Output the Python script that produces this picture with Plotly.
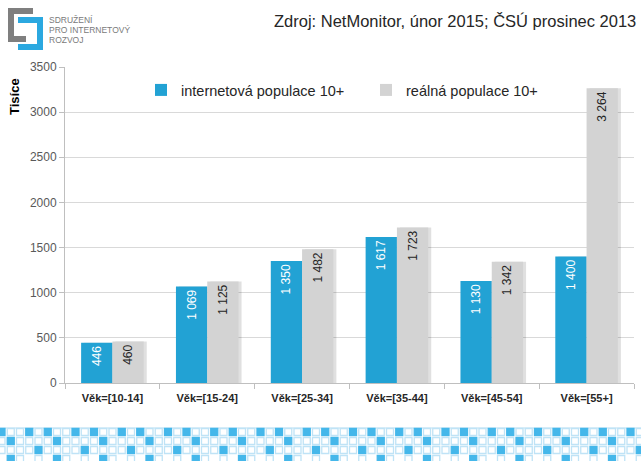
import plotly.graph_objects as go

categories = ["Věk=[10-14]", "Věk=[15-24]", "Věk=[25-34]", "Věk=[35-44]", "Věk=[45-54]", "Věk=[55+]"]
internet_pop = [446, 1069, 1350, 1617, 1130, 1400]
real_pop = [460, 1125, 1482, 1723, 1342, 3264]
series_names = ["internetová populace 10+", "reálná populace 10+"]
y_ticks = [0, 500, 1000, 1500, 2000, 2500, 3000, 3500]

BLUE = "#22A2D4"
GRAY = "#D3D3D3"
FONT = "Liberation Sans, Arial, sans-serif"

W, H = 641, 461
L, R, T, B = 65, 634, 67, 383


def px(x):
    return (x - L) / (R - L)


def py(y):
    return (B - y) / (B - T)


def fmt(v):
    return f"{v:,}".replace(",", " ")


fig = go.Figure()

bw = 0.33
# shadows
for vals, off in [(internet_pop, -bw), (real_pop, 0.0)]:
    fig.add_trace(go.Bar(
        x=categories, y=vals, width=bw, offset=off + 0.032,
        marker=dict(color="rgba(0,0,0,0.12)", line=dict(width=0)),
        showlegend=False, hoverinfo="skip"))

fig.add_trace(go.Bar(
    x=categories, y=internet_pop, name=series_names[0], width=bw, offset=-bw,
    marker=dict(color=BLUE, line=dict(width=0)),
    text=[fmt(v) for v in internet_pop], textposition="inside",
    insidetextanchor="end", textangle=-90,
    textfont=dict(family=FONT, size=12, color="white")))
fig.add_trace(go.Bar(
    x=categories, y=real_pop, name=series_names[1], width=bw, offset=0.0,
    marker=dict(color=GRAY, line=dict(width=0)),
    text=[fmt(v) for v in real_pop], textposition="inside",
    insidetextanchor="end", textangle=-90,
    textfont=dict(family=FONT, size=12, color="#262626")))

shapes = []
annotations = []


def rect(x0, y0, x1, y1, color, line=None, lw=0):
    shapes.append(dict(type="rect", xref="paper", yref="paper",
                       x0=px(x0), x1=px(x1), y0=py(y1), y1=py(y0),
                       fillcolor=color, line=dict(color=line or color, width=lw), layer="above"))


# logo
LG = "#7F7F7F"
LB = "#2BA8E0"
rect(8, 8, 33, 14, LG)
rect(8, 8, 14, 42, LG)
rect(8, 36, 26, 42, LG)
rect(18, 17, 43, 23, LB)
rect(37, 17, 43, 50, LB)
rect(18, 44, 43, 50, LB)
for i, t in enumerate(["SDRUŽENÍ", "PRO INTERNETOVÝ", "ROZVOJ"]):
    annotations.append(dict(text=t, xref="paper", yref="paper", x=px(47), y=py(20 + i * 10),
                            xanchor="left", yanchor="middle", showarrow=False,
                            font=dict(family=FONT, size=8.5, color="#7A7A7A")))

# footer pattern
shapes.append(dict(type="rect", xref="paper", yref="paper", x0=px(0), x1=px(641),
                   y0=py(429), y1=py(427), fillcolor="#DCEFF9", line=dict(width=0), layer="above"))
rows = [(432, {0, 3}, None), (441, {1}, None), (450, {4}, None), (459, {1}, {1, 2, 4})]
pitch = 9.25
for ry, filled, present in rows:
    n = 0
    while n * pitch < 645:
        k = n % 5
        if present is None or k in present:
            x0 = n * pitch - 2
            is_f = k in filled
            shapes.append(dict(type="rect", xref="paper", yref="paper",
                               x0=px(x0), x1=px(x0 + 7), y0=py(ry + 3.5), y1=py(ry - 3.5),
                               fillcolor="#45B7EA" if is_f else "white",
                               line=dict(color="#BFE3F6" if not is_f else "#45B7EA", width=1.3),
                               layer="above"))
        n += 1

annotations.append(dict(text="Zdroj: NetMonitor, únor 2015; ČSÚ prosinec 2013", xref="paper", yref="paper",
                        x=px(638), y=py(21), xanchor="right", yanchor="middle", showarrow=False,
                        font=dict(family=FONT, size=16.5, color="#262626")))
annotations.append(dict(text="<b>Tisíce</b>", xref="paper", yref="paper", x=px(15), y=py(97),
                        xanchor="center", yanchor="middle", textangle=-90, showarrow=False,
                        font=dict(family=FONT, size=13, color="#000000")))

fig.update_layout(
    width=W, height=H,
    margin=dict(l=L, r=W - R, t=T, b=H - B, autoexpand=False),
    paper_bgcolor="white", plot_bgcolor="white",
    barmode="overlay",
    font=dict(family=FONT, size=11, color="#404040"),
    shapes=shapes, annotations=annotations,
    legend=dict(orientation="h", x=px(141), y=py(90), xanchor="left", yanchor="middle",
                font=dict(family=FONT, size=14.5, color="#262626"),
                entrywidth=180, bgcolor="rgba(0,0,0,0)", traceorder="normal"),
    xaxis=dict(type="category", tickson="boundaries", ticks="outside", ticklen=5,
               tickcolor="#BFBFBF", showline=True, linecolor="#BFBFBF", linewidth=1,
               showgrid=False, range=[-0.5, 5.5], ticklabelstandoff=5,
               tickfont=dict(family=FONT, size=11, color="#262626"),
               tickprefix="<b>", ticksuffix="</b>"),
    yaxis=dict(range=[0, 3500], tickvals=y_ticks, ticks="outside", ticklen=5, tickcolor="#BFBFBF",
               showline=True, linecolor="#BFBFBF", linewidth=1,
               showgrid=True, gridcolor="#D9D9D9", gridwidth=1, zeroline=False,
               tickfont=dict(family=FONT, size=12, color="#595959")),
    showlegend=True,
)

fig.write_html("out.html", config={"displayModeBar": False},
               post_script="document.body.style.margin='0px';document.body.style.overflow='hidden';")
